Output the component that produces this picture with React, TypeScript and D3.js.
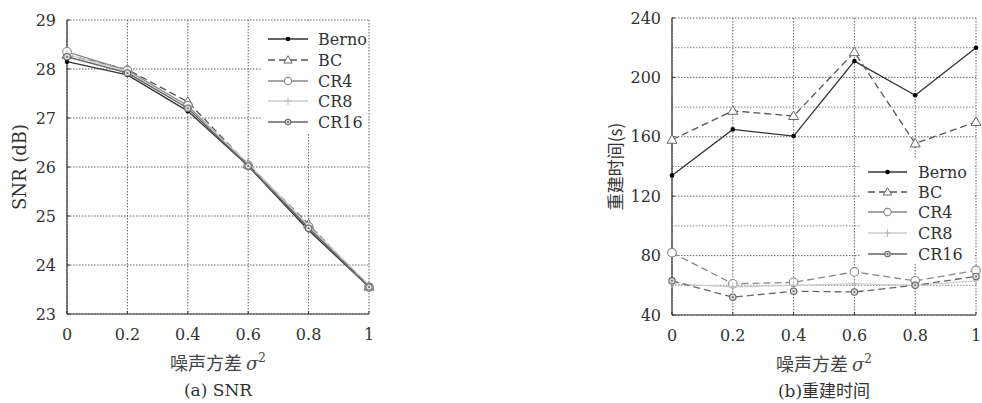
import React from "react";
import * as d3 from "d3";

const xValues = [0, 0.2, 0.4, 0.6, 0.8, 1];
const seriesNames = ["Berno", "BC", "CR4", "CR8", "CR16"];

const snrBerno = [28.15, 27.88, 27.14, 26.02, 24.71, 23.55];
const snrBC = [28.29, 27.99, 27.33, 26.05, 24.83, 23.56];
const snrCR4 = [28.35, 27.97, 27.25, 26.03, 24.78, 23.55];
const snrCR8 = [28.3, 27.95, 27.2, 26.08, 24.8, 23.6];
const snrCR16 = [28.25, 27.92, 27.2, 26.02, 24.75, 23.55];

const timeBerno = [134, 165, 160.5, 211, 188, 220];
const timeBC = [158, 177.5, 174, 217, 155.5, 170];
const timeCR4 = [82, 61, 62, 69, 63, 70];
const timeCR8 = [61, 59, 60, 61, 60, 63];
const timeCR16 = [63, 52, 56, 55.5, 60, 66];

const xTicks = [0, 0.2, 0.4, 0.6, 0.8, 1];
const snrTicks = [23, 24, 25, 26, 27, 28, 29];
const timeTicks = [40, 80, 120, 160, 200, 240];
const timeGrid = [40, 60, 80, 100, 120, 140, 160, 180, 200, 220, 240];

const xLabel = "噪声方差";
const snrYLabel = "SNR (dB)";
const timeYLabel = "重建时间(s)";
const snrCaption = "(a) SNR";
const timeCaptionPrefix = "(b)";
const timeCaptionText = "重建时间";

type Style = { stroke: string; dash?: string; width: number; marker: string; mcolor: string };

const leftStyles: Style[] = [
  { stroke: "#333", width: 1.3, marker: "dot", mcolor: "#000" },
  { stroke: "#555", dash: "7,4", width: 1.3, marker: "tri", mcolor: "#666" },
  { stroke: "#888", width: 1.3, marker: "circle", mcolor: "#888" },
  { stroke: "#ccc", width: 1.3, marker: "plus", mcolor: "#bbb" },
  { stroke: "#666", width: 1.3, marker: "ocircle", mcolor: "#666" },
];
const rightStyles: Style[] = [
  { stroke: "#333", width: 1.3, marker: "dot", mcolor: "#000" },
  { stroke: "#555", dash: "7,4", width: 1.3, marker: "tri", mcolor: "#666" },
  { stroke: "#888", dash: "7,4", width: 1.3, marker: "circle", mcolor: "#888" },
  { stroke: "#ccc", width: 1.3, marker: "plus", mcolor: "#bbb" },
  { stroke: "#666", dash: "7,4", width: 1.3, marker: "ocircle", mcolor: "#666" },
];
const legendStyles: Style[] = [
  { stroke: "#333", width: 1.3, marker: "dot", mcolor: "#000" },
  { stroke: "#555", dash: "7,4", width: 1.3, marker: "tri", mcolor: "#666" },
  { stroke: "#888", width: 1.3, marker: "circle", mcolor: "#888" },
  { stroke: "#ccc", width: 1.3, marker: "plus", mcolor: "#bbb" },
  { stroke: "#666", width: 1.3, marker: "ocircle", mcolor: "#666" },
];

const serif = "'DejaVu Serif', 'Liberation Serif', serif";
const cjk = "'Noto Sans CJK SC', sans-serif";

function Marker({ x, y, s, small }: { x: number; y: number; s: Style; small?: boolean }) {
  const k = small ? 0.85 : 1;
  if (s.marker === "dot") return <circle cx={x} cy={y} r={2.3} fill={s.mcolor} />;
  if (s.marker === "tri") {
    const r = 5 * k;
    return (
      <path
        d={`M${x},${y - r}L${x + r},${y + r * 0.7}L${x - r},${y + r * 0.7}Z`}
        fill="#fff"
        stroke={s.mcolor}
        strokeWidth={1}
      />
    );
  }
  if (s.marker === "circle") return <circle cx={x} cy={y} r={4.3 * k} fill="#fff" stroke={s.mcolor} strokeWidth={1.1} />;
  if (s.marker === "plus")
    return <path d={`M${x - 3},${y}H${x + 3}M${x},${y - 4}V${y + 4}`} stroke={s.mcolor} strokeWidth={1} />;
  return (
    <g>
      <circle cx={x} cy={y} r={3.2 * k} fill="#ddd" stroke={s.mcolor} strokeWidth={1.1} />
      <circle cx={x} cy={y} r={1} fill={s.mcolor} />
    </g>
  );
}

type PanelProps = {
  left: number;
  right: number;
  top: number;
  bottom: number;
  yDomain: [number, number];
  yTicks: number[];
  yGrid: number[];
  data: number[][];
  styles: Style[];
  legend: { x0: number; x1: number; tx: number; rows: number[]; box: [number, number, number, number] };
  yLabel: string;
  yLabelX: number;
  yLabelCjk: boolean;
  caption: React.ReactNode;
};

function Panel(p: PanelProps) {
  const x = d3.scaleLinear().domain([0, 1]).range([p.left, p.right]);
  const y = d3.scaleLinear().domain(p.yDomain).range([p.bottom, p.top]);
  const line = d3
    .line<number>()
    .x((_, i) => x(xValues[i]))
    .y((d) => y(d));
  const cx = (p.left + p.right) / 2;
  const cy = (p.top + p.bottom) / 2;
  const grid = "1.5,1.5";
  const [bx, by, bw, bh] = p.legend.box;
  return (
    <g>
      {xTicks.map((t) => (
        <line key={"gx" + t} x1={x(t)} x2={x(t)} y1={p.top} y2={p.bottom} stroke="#666" strokeDasharray={grid} />
      ))}
      {p.yGrid.map((t) => (
        <line
          key={"gy" + t}
          x1={p.left}
          x2={p.right}
          y1={y(t)}
          y2={y(t)}
          stroke={p.yTicks.includes(t) ? "#666" : "#888"}
          strokeDasharray={grid}
        />
      ))}
      <line x1={p.left} x2={p.left} y1={p.top} y2={p.bottom} stroke="#333" strokeWidth={1.2} />
      <line x1={p.left} x2={p.right} y1={p.bottom} y2={p.bottom} stroke="#333" strokeWidth={1.2} />
      {p.yTicks.map((t) => (
        <line key={"ytk" + t} x1={p.left} x2={p.left + 3} y1={y(t)} y2={y(t)} stroke="#333" />
      ))}
      {xTicks.map((t) => (
        <line key={"xtk" + t} x1={x(t)} x2={x(t)} y1={p.bottom} y2={p.bottom - 3} stroke="#333" />
      ))}
      {xTicks.map((t) => (
        <text key={"xt" + t} x={x(t)} y={p.bottom + 26} textAnchor="middle" fontFamily={serif} fontSize={16} fill="#333">
          {d3.format("~g")(t)}
        </text>
      ))}
      {p.yTicks.map((t) => (
        <text key={"yt" + t} x={p.left - 11} y={y(t) + 5.5} textAnchor="end" fontFamily={serif} fontSize={16} fill="#333">
          {String(t)}
        </text>
      ))}
      <rect x={bx} y={by} width={bw} height={bh} fill="#fff" />
      {p.data.map((d, k) => (
        <g key={"s" + k}>
          <path
            d={line(d) || ""}
            fill="none"
            stroke={p.styles[k].stroke}
            strokeWidth={p.styles[k].width}
            strokeDasharray={p.styles[k].dash}
          />
          {d.map((v, i) => (
            <Marker key={i} x={x(xValues[i])} y={y(v)} s={p.styles[k]} />
          ))}
        </g>
      ))}
      {seriesNames.map((n, k) => {
        const ly = p.legend.rows[k];
        const s = legendStyles[k];
        return (
          <g key={"l" + n}>
            <line x1={p.legend.x0} x2={p.legend.x1} y1={ly} y2={ly} stroke={s.stroke} strokeWidth={s.width} strokeDasharray={s.dash} />
            <Marker x={(p.legend.x0 + p.legend.x1) / 2} y={ly} s={s} small />
            <text x={p.legend.tx} y={ly + 6} fontFamily={serif} fontSize={16} fill="#333">
              {n}
            </text>
          </g>
        );
      })}
      <text
        transform={`translate(${p.yLabelX},${cy}) rotate(-90)`}
        textAnchor="middle"
        fontFamily={p.yLabelCjk ? cjk : serif}
        fontSize={p.yLabelCjk ? 17 : 18}
        fill="#333"
      >
        {p.yLabel}
      </text>
      <text x={cx} y={p.bottom + 56} textAnchor="middle" fontSize={18} fill="#444">
        <tspan fontFamily={cjk}>{xLabel} </tspan>
        <tspan fontFamily={serif} fontStyle="italic">σ</tspan>
        <tspan fontFamily={serif} fontSize={12} dy={-8}>2</tspan>
      </text>
      <text x={cx} y={p.bottom + 82} textAnchor="middle" fontFamily={serif} fontSize={17} fill="#333">
        {p.caption}
      </text>
    </g>
  );
}

export default function App() {
  return (
    <svg width={982} height={403} style={{ position: "absolute", left: 0, top: 0, background: "#fff" }}>
      <rect width={982} height={403} fill="#fff" />
      <Panel
        left={67}
        right={369}
        top={20}
        bottom={314}
        yDomain={[23, 29]}
        yTicks={snrTicks}
        yGrid={snrTicks}
        data={[snrBerno, snrBC, snrCR4, snrCR8, snrCR16]}
        styles={leftStyles}
        legend={{ x0: 268, x1: 308, tx: 318, rows: [39, 60, 81, 101, 122], box: [261, 21, 107, 112] }}
        yLabel={snrYLabel}
        yLabelX={26}
        yLabelCjk={false}
        caption={snrCaption}
      />
      <Panel
        left={672}
        right={976}
        top={18}
        bottom={315}
        yDomain={[40, 240]}
        yTicks={timeTicks}
        yGrid={timeGrid}
        data={[timeBerno, timeBC, timeCR4, timeCR8, timeCR16]}
        styles={rightStyles}
        legend={{ x0: 868, x1: 907, tx: 918, rows: [172, 192, 212, 233, 254], box: [860, 158, 115, 105] }}
        yLabel={timeYLabel}
        yLabelX={622}
        yLabelCjk={true}
        caption={
          <>
            <tspan fontFamily={serif}>{timeCaptionPrefix}</tspan>
            <tspan fontFamily={cjk}>{timeCaptionText}</tspan>
          </>
        }
      />
    </svg>
  );
}
